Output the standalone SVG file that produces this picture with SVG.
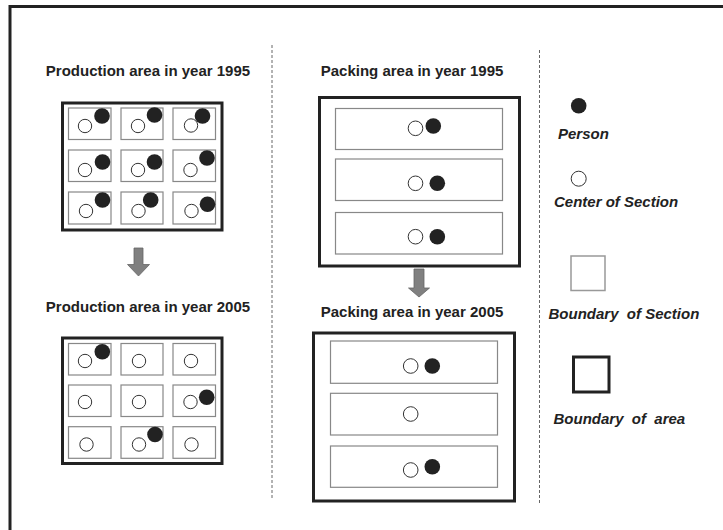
<svg xmlns="http://www.w3.org/2000/svg" width="723" height="530" viewBox="0 0 723 530">
<style>
.t{font-family:"Liberation Sans",Arial,sans-serif;font-weight:bold;font-size:15px;fill:#222}
.ti{font-family:"Liberation Sans",Arial,sans-serif;font-weight:bold;font-style:italic;font-size:15px;fill:#222;white-space:pre}
.area{fill:none;stroke:#222;stroke-width:3}
.sec{fill:#fff;stroke:#888;stroke-width:1.2}
.ctr{fill:#fff;stroke:#333;stroke-width:1}
.per{fill:#222}
.dash{stroke:#666;stroke-width:1;stroke-dasharray:3,2;fill:none}
.arr{fill:#808080;stroke:#666;stroke-width:0.8}
</style>
<rect width="723" height="530" fill="#fff"/>
<rect x="10" y="6.5" width="800" height="600" fill="none" stroke="#222" stroke-width="3"/>
<line class="dash" x1="272" y1="45" x2="272" y2="499"/>
<line class="dash" x1="539.5" y1="50" x2="539.5" y2="504"/>

<g id="prod1995">
<text class="t" x="148" y="76" text-anchor="middle">Production area in year 1995</text>
<rect class="area" x="62.5" y="103" width="159.5" height="127"/>
<rect class="sec" x="68.5" y="108" width="42.5" height="31.5"/>
<rect class="sec" x="121" y="108" width="42" height="31.5"/>
<rect class="sec" x="173" y="108" width="42.5" height="31.5"/>
<rect class="sec" x="68.5" y="150" width="42.5" height="31.5"/>
<rect class="sec" x="121" y="150" width="42" height="31.5"/>
<rect class="sec" x="173" y="150" width="42.5" height="31.5"/>
<rect class="sec" x="68.5" y="192" width="42.5" height="32"/>
<rect class="sec" x="121" y="192" width="42" height="32"/>
<rect class="sec" x="173" y="192" width="42.5" height="32"/>
<circle class="ctr" cx="85" cy="126" r="6.7"/>
<circle class="ctr" cx="138" cy="126" r="6.7"/>
<circle class="ctr" cx="191" cy="125.5" r="6.7"/>
<circle class="ctr" cx="85" cy="170" r="6.7"/>
<circle class="ctr" cx="138" cy="170" r="6.7"/>
<circle class="ctr" cx="190.5" cy="170" r="6.7"/>
<circle class="ctr" cx="86" cy="211" r="6.7"/>
<circle class="ctr" cx="138.5" cy="211" r="6.7"/>
<circle class="ctr" cx="191.5" cy="211" r="6.7"/>
<circle class="per" cx="102" cy="116" r="7.8"/>
<circle class="per" cx="154.5" cy="115" r="7.8"/>
<circle class="per" cx="202.5" cy="116" r="7.8"/>
<circle class="per" cx="102.5" cy="162" r="7.8"/>
<circle class="per" cx="154.5" cy="162" r="7.8"/>
<circle class="per" cx="207" cy="158" r="7.8"/>
<circle class="per" cx="102.5" cy="200" r="7.8"/>
<circle class="per" cx="150.7" cy="200" r="7.8"/>
<circle class="per" cx="207.5" cy="204.3" r="7.8"/>
</g>

<g id="prod2005">
<text class="t" x="148" y="312" text-anchor="middle">Production area in year 2005</text>
<rect class="area" x="62.5" y="338" width="159.5" height="125.5"/>
<rect class="sec" x="68.5" y="343.5" width="42.5" height="31.5"/>
<rect class="sec" x="121" y="343.5" width="42" height="31.5"/>
<rect class="sec" x="173" y="343.5" width="42.5" height="31.5"/>
<rect class="sec" x="68.5" y="385" width="42.5" height="31.5"/>
<rect class="sec" x="121" y="385" width="42" height="31.5"/>
<rect class="sec" x="173" y="385" width="42.5" height="31.5"/>
<rect class="sec" x="68.5" y="426.7" width="42.5" height="31.6"/>
<rect class="sec" x="121" y="426.7" width="42" height="31.6"/>
<rect class="sec" x="173" y="426.7" width="42.5" height="31.6"/>
<circle class="ctr" cx="85" cy="361" r="6.7"/>
<circle class="ctr" cx="139" cy="361" r="6.7"/>
<circle class="ctr" cx="191" cy="361" r="6.7"/>
<circle class="ctr" cx="85" cy="402" r="6.7"/>
<circle class="ctr" cx="139" cy="402" r="6.7"/>
<circle class="ctr" cx="190.5" cy="402" r="6.7"/>
<circle class="ctr" cx="86.5" cy="444.5" r="6.7"/>
<circle class="ctr" cx="139" cy="444.5" r="6.7"/>
<circle class="ctr" cx="191.5" cy="444.5" r="6.7"/>
<circle class="per" cx="102.3" cy="351.7" r="7.8"/>
<circle class="per" cx="206.7" cy="397.3" r="7.8"/>
<circle class="per" cx="155" cy="434.5" r="7.8"/>
</g>

<g id="pack1995">
<text class="t" x="412" y="76" text-anchor="middle">Packing area in year 1995</text>
<rect class="area" x="319.5" y="97.5" width="200" height="168.5"/>
<rect class="sec" x="335.5" y="108.5" width="167" height="41"/>
<rect class="sec" x="335.5" y="159" width="167" height="41.5"/>
<rect class="sec" x="335.5" y="212.5" width="167" height="41.5"/>
<circle class="ctr" cx="415.5" cy="128.3" r="7.3"/>
<circle class="per" cx="433.3" cy="126" r="7.8"/>
<circle class="ctr" cx="415.5" cy="183.3" r="7.3"/>
<circle class="per" cx="437.3" cy="183.3" r="7.8"/>
<circle class="ctr" cx="415.5" cy="236.7" r="7.3"/>
<circle class="per" cx="437.3" cy="236.7" r="7.8"/>
</g>

<g id="pack2005">
<text class="t" x="412" y="317" text-anchor="middle">Packing area in year 2005</text>
<rect class="area" x="313.5" y="333" width="201" height="168"/>
<rect class="sec" x="330.5" y="341" width="167" height="42.3"/>
<rect class="sec" x="330.5" y="393.3" width="167" height="41.7"/>
<rect class="sec" x="330.5" y="446" width="167" height="41.3"/>
<circle class="ctr" cx="410.7" cy="366" r="7.3"/>
<circle class="per" cx="432.3" cy="366" r="7.8"/>
<circle class="ctr" cx="410.7" cy="414" r="7.3"/>
<circle class="ctr" cx="410.7" cy="470" r="7.3"/>
<circle class="per" cx="432.3" cy="466.7" r="7.8"/>
</g>

<g id="connectors">
<polygon class="arr" points="134,248 143,248 143,264.5 149.5,264.5 138.5,276 127.5,264.5 134,264.5"/>
<polygon class="arr" points="414,269 424,269 424,288 429.5,288 419,297 408.5,288 414,288"/>
</g>

<g id="legend-person">
<circle class="per" cx="578.7" cy="105.7" r="7.8"/>
<text class="ti" x="558" y="139">Person</text>
</g>
<g id="legend-center">
<circle class="ctr" cx="578.7" cy="178.7" r="7.5"/>
<text class="ti" x="554" y="206.7">Center of Section</text>
</g>
<g id="legend-section">
<rect x="571" y="256" width="34" height="34.5" fill="#fff" stroke="#999" stroke-width="1.5"/>
<text class="ti" x="548.5" y="319">Boundary  of Section</text>
</g>
<g id="legend-area">
<rect class="area" x="573.5" y="357" width="35.5" height="35"/>
<text class="ti" x="553.5" y="423.5">Boundary  of  area</text>
</g>
</svg>
